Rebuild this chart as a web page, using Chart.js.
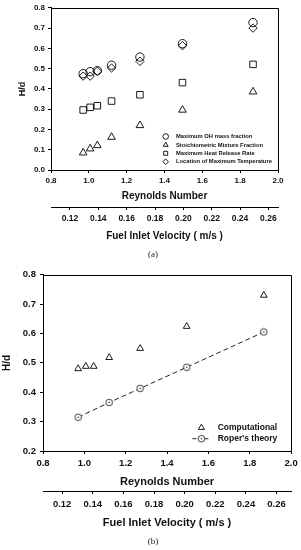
<!DOCTYPE html>
<html>
<head>
<meta charset="utf-8">
<script src="https://cdn.jsdelivr.net/npm/chart.js@4.4.1/dist/chart.umd.min.js"></script>
<style>
  html, body { margin: 0; padding: 0; background: #fff; }
  body { width: 301px; height: 550px; position: relative; overflow: hidden; }
  .wrap { position: absolute; left: 0; width: 301px; }
  #wrapA { top: 0; height: 250px; }
  #wrapB { top: 265px; height: 270px; }
  .cap { position: absolute; left: 0; width: 306px; text-align: center;
         font-family: "Liberation Serif", serif; font-size: 9px; color: #222; }
</style>
</head>
<body>
<div class="wrap" id="wrapA"><canvas id="chartA"></canvas></div>
<div class="cap" style="top:249px">(a)</div>
<div class="wrap" id="wrapB"><canvas id="chartB"></canvas></div>
<div class="cap" style="top:536px">(b)</div>
<script>
// Reynolds numbers of the simulated cases (x values)
const reynolds = [0.97, 1.007, 1.045, 1.12, 1.27, 1.495, 1.868];

// (a) flame height H/d by each criterion
const ohMassFraction = [0.475, 0.485, 0.49, 0.517, 0.557, 0.623, 0.727];
const stoichMixture = [0.085, 0.105, 0.121, 0.162, 0.22, 0.296, 0.386];
const heatRelease = [0.296, 0.309, 0.317, 0.34, 0.371, 0.431, 0.521];
const maxTemperature = [0.463, 0.463, 0.487, 0.503, 0.536, 0.613, 0.70];

// (b) computed height vs Roper's theory
const computational = [0.48, 0.488, 0.488, 0.518, 0.549, 0.624, 0.73];
const roperReynolds = [0.97, 1.12, 1.27, 1.495, 1.868];
const roperTheory = [0.315, 0.365, 0.413, 0.485, 0.605];

// tick labels
const reynoldsTicks = [0.8, 1.0, 1.2, 1.4, 1.6, 1.8, 2.0];
const velocityTicks = [0.12, 0.14, 0.16, 0.18, 0.20, 0.22, 0.24, 0.26];
const heightTicksA = [0, 0.1, 0.2, 0.3, 0.4, 0.5, 0.6, 0.7, 0.8];
const heightTicksB = [0.2, 0.3, 0.4, 0.5, 0.6, 0.7, 0.8];

const FONT = '"Liberation Sans", Arial, sans-serif';
const INK = "#111";

const pts = (xs, ys) => xs.map((x, i) => ({ x: x, y: ys[i] }));

// circle with a dot in the middle, used for Roper's theory
function ringDot(r) {
  const s = Math.ceil(r * 2 + 2);
  const c = document.createElement("canvas");
  c.width = s;
  c.height = s;
  const g = c.getContext("2d");
  g.fillStyle = "#fff";
  g.strokeStyle = "#222";
  g.lineWidth = 0.9;
  g.beginPath();
  g.arc(s / 2, s / 2, r, 0, Math.PI * 2);
  g.fill();
  g.stroke();
  g.fillStyle = "#222";
  g.beginPath();
  g.arc(s / 2, s / 2, 0.8, 0, Math.PI * 2);
  g.fill();
  return c;
}

// top and right edges of the plot box
const framePlugin = {
  id: "frame",
  afterDraw(chart) {
    const { ctx, chartArea: a } = chart;
    ctx.save();
    ctx.strokeStyle = "#000";
    ctx.lineWidth = 1;
    ctx.beginPath();
    ctx.moveTo(Math.round(a.left) + 0.5, Math.round(a.top) + 0.5);
    ctx.lineTo(Math.round(a.right) + 0.5, Math.round(a.top) + 0.5);
    ctx.lineTo(Math.round(a.right) + 0.5, Math.round(a.bottom) + 0.5);
    ctx.stroke();
    ctx.restore();
  }
};

// legend drawn inside the plot box
const boxLegend = {
  id: "boxLegend",
  afterDatasetsDraw(chart, args, opts) {
    const { ctx, chartArea } = chart;
    ctx.save();
    ctx.font = "bold " + opts.size + "px " + FONT;
    ctx.textBaseline = "middle";
    chart.data.datasets.forEach((ds, i) => {
      const x = chartArea.left + opts.x;
      const y = chartArea.top + opts.y + i * opts.row;
      if (ds.showLine) {
        ctx.strokeStyle = "#222";
        ctx.lineWidth = 1;
        ctx.setLineDash([4, 2]);
        ctx.beginPath();
        ctx.moveTo(x - opts.lineHalf, y);
        ctx.lineTo(x + opts.lineHalf, y);
        ctx.stroke();
        ctx.setLineDash([]);
      }
      ctx.fillStyle = "rgba(0,0,0,0)";
      ctx.strokeStyle = "#000";
      ctx.lineWidth = 0.9;
      Chart.helpers.drawPoint(ctx, { pointStyle: ds.pointStyle, radius: opts.radius, borderWidth: 0.9, rotation: 0 }, x, y);
      ctx.fillStyle = INK;
      ctx.fillText(ds.label, chartArea.left + opts.textX, y);
    });
    ctx.restore();
  }
};

function marker(label, data, style, radius) {
  return {
    label: label,
    data: data,
    pointStyle: style,
    pointRadius: radius,
    borderColor: "#000",
    backgroundColor: "rgba(0,0,0,0)",
    pointBackgroundColor: "rgba(0,0,0,0)",
    pointBorderWidth: 0.9,
    showLine: false
  };
}

function bottomAxis(s, ticks, fmt, title) {
  return {
    type: "linear",
    position: "bottom",
    weight: s.weight,
    min: s.min,
    max: s.max,
    afterBuildTicks: (axis) => { axis.ticks = ticks.map((v) => ({ value: v })); },
    afterFit: (axis) => { axis.height = s.height; },
    border: { display: true, color: "#000", width: 1 },
    grid: { display: true, drawOnChartArea: false, drawTicks: true, tickLength: 3, tickColor: "#000" },
    ticks: {
      padding: s.tickPad, color: INK, maxRotation: 0, autoSkip: false,
      font: { family: FONT, size: s.tickSize, weight: "bold" },
      callback: (v) => Number(v).toFixed(fmt)
    },
    title: {
      display: true, text: title, color: INK,
      font: { family: FONT, size: s.titleSize, weight: "bold" },
      padding: { top: 0, bottom: s.titlePad }
    }
  };
}

function makeChart(id, c) {
  new Chart(document.getElementById(id), {
    type: "scatter",
    data: { datasets: c.datasets },
    options: {
      responsive: true,
      maintainAspectRatio: false,
      animation: false,
      events: [],
      layout: { padding: c.padding, autoPadding: false },
      plugins: { legend: { display: false }, tooltip: { enabled: false }, boxLegend: c.legend },
      scales: {
        x: bottomAxis(c.x, reynoldsTicks, 1, "Reynolds Number"),
        x2: bottomAxis(c.x2, velocityTicks, 2, "Fuel Inlet Velocity ( m/s )"),
        y: {
          type: "linear",
          position: "left",
          min: c.y.min,
          max: c.y.max,
          afterBuildTicks: (axis) => { axis.ticks = c.y.ticks.map((v) => ({ value: v })); },
          afterFit: (axis) => { axis.width = c.y.width; },
          border: { display: true, color: "#000", width: 1 },
          grid: { display: true, drawOnChartArea: false, drawTicks: true, tickLength: 3, tickColor: "#000" },
          ticks: {
            padding: c.y.tickPad, color: INK, autoSkip: false,
            font: { family: FONT, size: c.y.tickSize, weight: "bold" },
            callback: (v) => Number(v).toFixed(1)
          },
          title: {
            display: true, text: "H/d", color: INK,
            font: { family: FONT, size: c.y.titleSize, weight: "bold" },
            padding: { top: c.y.titlePad, bottom: 0 }
          }
        }
      }
    },
    plugins: [framePlugin, boxLegend]
  });
}

// (a)
makeChart("chartA", {
  datasets: [
    marker("Maximum OH mass fraction", pts(reynolds, ohMassFraction), "circle", 4.2),
    marker("Stoichiometric Mixture Fraction", pts(reynolds, stoichMixture), "triangle", 4.4),
    marker("Maximum Heat Release Rate", pts(reynolds, heatRelease), "rect", 4.6),
    marker("Location of Maximum Temperature", pts(reynolds, maxTemperature), "rectRot", 4.2)
  ],
  padding: { left: 0, right: 23, top: 6, bottom: 6 },
  x: { weight: 0, min: 0.8, max: 2.0, height: 37, tickPad: 3, tickSize: 8, titleSize: 10, titlePad: 4.3 },
  x2: { weight: 1, min: 0.1066, max: 0.2668, height: 37, tickPad: 3.2, tickSize: 8.5, titleSize: 10, titlePad: 2 },
  y: { min: 0, max: 0.8, ticks: heightTicksA, width: 51, tickPad: 3, tickSize: 8, titleSize: 9, titlePad: 17 },
  legend: { x: 114.7, y: 128.7, row: 8.4, textX: 125, size: 5.8, radius: 2.8, lineHalf: 8 }
});

// (b)
const roper = marker("Roper's theory", pts(roperReynolds, roperTheory), ringDot(3.3), 3.3);
roper.showLine = true;
roper.borderWidth = 1;
roper.borderDash = [5, 3];
roper.borderColor = "#222";

makeChart("chartB", {
  datasets: [
    marker("Computational", pts(reynolds, computational), "triangle", 3.9),
    roper
  ],
  padding: { left: 0, right: 9, top: 6, bottom: 3 },
  x: { weight: 0, min: 0.8, max: 2.0, height: 40, tickPad: 3.3, tickSize: 9.5, titleSize: 11, titlePad: 2.7 },
  x2: { weight: 1, min: 0.1075, max: 0.2695, height: 41, tickPad: 4.3, tickSize: 9.5, titleSize: 11, titlePad: 2.7 },
  y: { min: 0.2, max: 0.8, ticks: heightTicksB, width: 43, tickPad: 4, tickSize: 9.5, titleSize: 10, titlePad: 1 },
  legend: { x: 158.4, y: 153, row: 11, textX: 174.7, size: 8.5, radius: 3.5, lineHalf: 9 }
});
</script>
</body>
</html>
